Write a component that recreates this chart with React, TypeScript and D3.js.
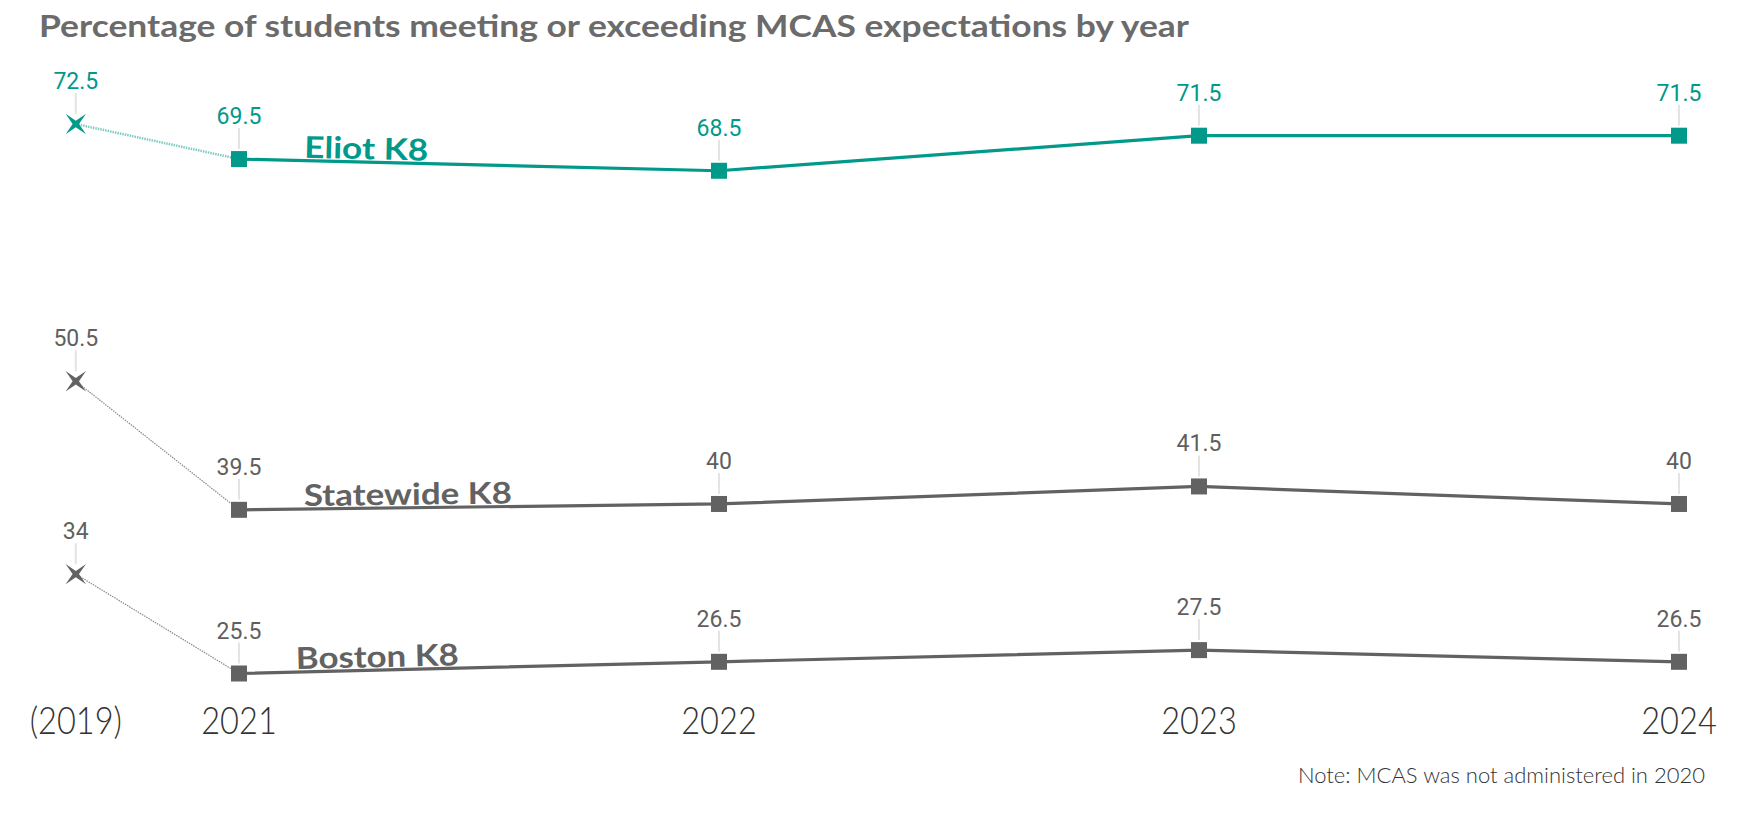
import React from "react";
import * as d3 from "d3";

const years = ["(2019)", "2021", "2022", "2023", "2024"];
// position of each year on the category axis (2019 sits closer, 2020 not administered)
const yearPos = [-0.34, 0, 1, 2, 3];
const eliot = [72.5, 69.5, 68.5, 71.5, 71.5];
const statewide = [50.5, 39.5, 40, 41.5, 40];
const boston = [34, 25.5, 26.5, 27.5, 26.5];
const seriesNames = ["Eliot K8", "Statewide K8", "Boston K8"];
const seriesValues = [eliot, statewide, boston];
const seriesColors = ["#00998a", "#626262", "#626262"];
const labelColors = ["#00998a", "#5f5f5f", "#5f5f5f"];

const W = 1739;
const H = 815;

const star4 = {
  draw(ctx: any, size: number) {
    const r = Math.sqrt(size) / 1.2;
    const ri = r * 0.22;
    for (let i = 0; i < 8; i++) {
      const a = (Math.PI / 4) * i + Math.PI / 4;
      const rr = i % 2 === 0 ? r : ri;
      const px = Math.cos(a) * rr;
      const py = Math.sin(a) * rr;
      if (i === 0) ctx.moveTo(px, py);
      else ctx.lineTo(px, py);
    }
    ctx.closePath();
  },
};

export default function App() {
  const x = d3.scaleLinear().domain([0, 3]).range([239, 1679]);
  const y = d3.scaleLinear().domain([25.5, 72.5]).range([673.5, 124]);
  const line = d3
    .line<number>()
    .x((_, i) => x(yearPos[i + 1]))
    .y((d) => y(d));
  const starPath = d3.symbol().type(star4 as any).size(300)() as string;

  const labelWidths = [124, 208, 163];
  const labelOffsets = [65, 65, 57];

  return (
    <svg
      width={W}
      height={H}
      style={{ position: "absolute", left: 0, top: 0, background: "#fff" }}
    >
      <text
        x={39}
        y={37}
        fontFamily="Lato"
        fontWeight={700}
        fontSize={31}
        fill="#6b6b6b"
        textLength={1150}
        lengthAdjust="spacingAndGlyphs"
      >
        Percentage of students meeting or exceeding MCAS expectations by year
      </text>

      {seriesValues.map((vals, si) => {
        const color = seriesColors[si];
        const x0 = x(yearPos[0]);
        const x1 = x(yearPos[1]);
        const x2 = x(yearPos[2]);
        const ang =
          (Math.atan2(y(vals[2]) - y(vals[1]), x2 - x1) * 180) / Math.PI;
        const off = labelOffsets[si];
        const lx = x1 + off;
        const ly = y(vals[1]) + ((y(vals[2]) - y(vals[1])) * off) / (x2 - x1) - 3;
        return (
          <g key={si}>
            <line
              x1={x0}
              y1={y(vals[0])}
              x2={x1}
              y2={y(vals[1])}
              stroke={si === 0 ? "#7fcbc3" : "#8a8a8a"}
              strokeWidth={si === 0 ? 2.5 : 1.2}
              strokeDasharray="1.5 1"
            />
            <path
              d={line(vals.slice(1)) as string}
              fill="none"
              stroke={color}
              strokeWidth={3.2}
            />
            {vals.map((v, i) => (
              <line
                key={"l" + i}
                x1={x(yearPos[i])}
                x2={x(yearPos[i])}
                y1={y(v) - 31}
                y2={y(v) - 10}
                stroke="#e4e4e4"
                strokeWidth={2}
              />
            ))}
            <path
              d={starPath}
              transform={`translate(${x0},${y(vals[0])})`}
              fill={color}
            />
            {vals.slice(1).map((v, i) => (
              <rect
                key={"m" + i}
                x={x(yearPos[i + 1]) - 8}
                y={y(v) - 8}
                width={16}
                height={16}
                fill={color}
              />
            ))}
            {vals.map((v, i) => (
              <text
                key={"t" + i}
                x={x(yearPos[i])}
                y={y(v) - 35}
                textAnchor="middle"
                fontFamily="Roboto"
                fontSize={23}
                fill={labelColors[si]}
              >
                {String(v)}
              </text>
            ))}
            <text
              x={lx}
              y={ly}
              transform={`rotate(${ang},${lx},${ly})`}
              fontFamily="Lato"
              fontWeight={700}
              fontSize={30}
              fill={color}
              textLength={labelWidths[si]}
              lengthAdjust="spacingAndGlyphs"
            >
              {seriesNames[si]}
            </text>
          </g>
        );
      })}

      {years.map((yr, i) => (
        <text
          key={yr}
          transform={`translate(${x(yearPos[i])},734) scale(0.88,1)`}
          textAnchor="middle"
          fontFamily="Lato"
          fontWeight={300}
          fontSize={37}
          fill="#333"
        >
          {yr}
        </text>
      ))}

      <text
        x={1705}
        y={783}
        textAnchor="end"
        fontFamily="Lato"
        fontWeight={300}
        fontSize={21}
        fill="#333"
        textLength={407}
        lengthAdjust="spacingAndGlyphs"
      >
        Note: MCAS was not administered in 2020
      </text>
    </svg>
  );
}
